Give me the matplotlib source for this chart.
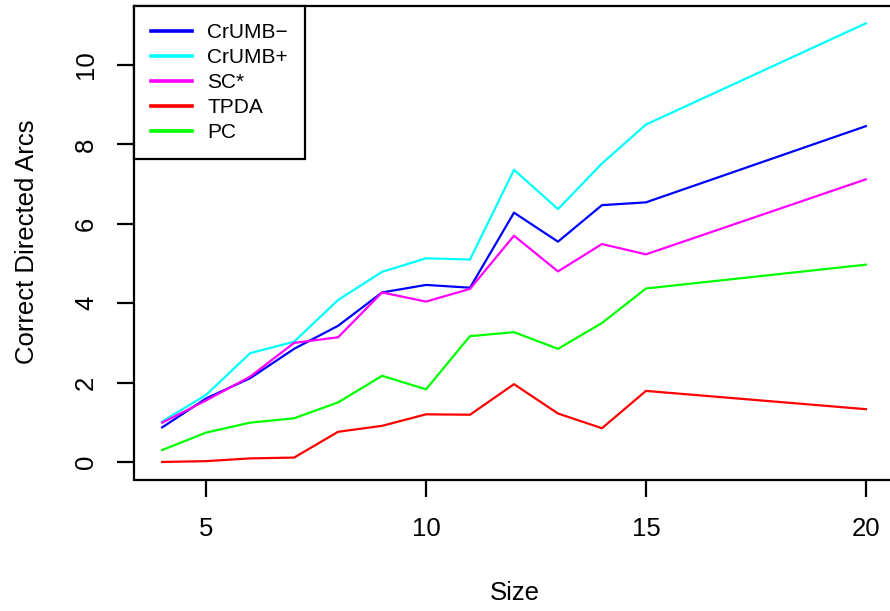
import matplotlib
matplotlib.use('Agg')
import matplotlib.pyplot as plt

plt.rcParams['font.family'] = ['Liberation Sans', 'DejaVu Sans']

sizes = [4, 5, 6, 7, 8, 9, 10, 11, 12, 13, 14, 15, 20]

crumb_minus = [0.87, 1.60, 2.11, 2.85, 3.43, 4.27, 4.46, 4.39, 6.28, 5.55, 6.47, 6.54, 8.46]
crumb_plus = [1.02, 1.69, 2.74, 3.03, 4.08, 4.79, 5.13, 5.10, 7.36, 6.37, 7.52, 8.50, 11.05]
sc_star = [0.99, 1.55, 2.15, 3.00, 3.14, 4.27, 4.04, 4.36, 5.70, 4.80, 5.49, 5.23, 7.12]
tpda = [0.00, 0.02, 0.09, 0.11, 0.76, 0.91, 1.20, 1.19, 1.96, 1.22, 0.85, 1.79, 1.33]
pc = [0.30, 0.74, 0.99, 1.10, 1.50, 2.17, 1.83, 3.17, 3.27, 2.85, 3.50, 4.37, 4.97]

series = [
    ('CrUMB\u2212', crumb_minus, '#0000ff'),
    ('CrUMB+', crumb_plus, '#00ffff'),
    ('SC*', sc_star, '#ff00ff'),
    ('TPDA', tpda, '#ff0000'),
    ('PC', pc, '#00ff00'),
]


def make_plot():
    W, H = 890, 611
    fig = plt.figure(figsize=(W / 100, H / 100), dpi=100)
    left, right, bottom, top = 134, 894, 479.5, 5.8
    ax = fig.add_axes([left / W, 1 - bottom / H, (right - left) / W, (bottom - top) / H])

    for label, vals, col in series:
        ax.plot(sizes, vals, color=col, lw=1.6, label=label)

    # R-style 4% padding
    ax.set_xlim(3.36, 20.64)
    ax.set_ylim(-0.442, 11.492)
    ax.set_xticks([5, 10, 15, 20])
    ax.set_yticks([0, 2, 4, 6, 8, 10])
    ax.tick_params(axis='both', length=12, width=1.6, labelsize=18.5, direction='out')
    ax.tick_params(axis='x', pad=15)
    ax.tick_params(axis='y', pad=14)
    for t in ax.get_yticklabels():
        t.set_rotation(90)
        t.set_va('center')
    for sp in ax.spines.values():
        sp.set_linewidth(1.6)
        sp.set_clip_on(False)

    fig.text(515 / W, 1 - 593 / H, 'Size', ha='center', va='center', fontsize=18.5)
    fig.text(27 / W, 1 - 242 / H, 'Correct Directed Arcs', ha='center', va='center',
             rotation=90, fontsize=18.5)

    leg = ax.legend(loc='upper left', bbox_to_anchor=(0, 1), borderaxespad=0,
                    fontsize=15, handlelength=1.95, handletextpad=0.75,
                    labelspacing=0.29, borderpad=0.82, fancybox=False,
                    framealpha=1, edgecolor='black')
    leg.get_frame().set_linewidth(1.6)
    for ln in leg.get_lines():
        ln.set_linewidth(2.6)

    fig.savefig('out.png', dpi=100)


def main():
    make_plot()


if __name__ == '__main__':
    main()
